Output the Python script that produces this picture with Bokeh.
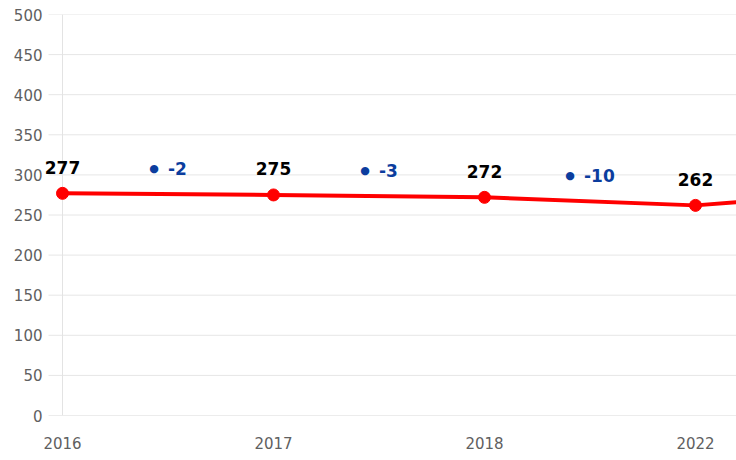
from bokeh.plotting import figure
from bokeh.models import Range1d, FixedTicker, ColumnDataSource, LabelSet, Label
from bokeh.core.properties import value
from bokeh.embed import file_html
from bokeh.resources import INLINE

# ---- data ----
years = ["2016", "2017", "2018", "2022", "2023"]
totals = [277, 275, 272, 262, 283]
changes = ["-2", "-3", "-10"]
y_ticks = [0, 50, 100, 150, 200, 250, 300, 350, 400, 450, 500]

FONT = "DejaVu Sans"
BLUE = "#0b3d9e"
GRID = "#e6e6e6"

xs = list(range(len(years)))
n_visible = 4
step_px = 211.0
x_start = -20 / step_px          # frame edge, a little left of the first category
x_end = 3 + 41 / step_px
grid_start = -14 / step_px       # grid lines begin 14px left of the first category

p = figure(width=736, height=452, output_backend="svg", toolbar_location=None,
           x_range=Range1d(x_start, x_end), y_range=Range1d(0, 500),
           min_border_left=42, min_border_right=0, min_border_top=14, min_border_bottom=37)
p.outline_line_color = None
p.background_fill_color = "white"
p.border_fill_color = "white"

# axes
p.xaxis.ticker = FixedTicker(ticks=xs)
p.xaxis.major_label_overrides = {i: y for i, y in zip(xs, years)}
p.xaxis.major_tick_out = 0
p.xaxis.major_tick_in = 0
p.xaxis.minor_tick_line_color = None
p.xaxis.axis_line_color = None
p.xaxis.major_label_standoff = 21
p.xaxis.major_label_text_font = FONT
p.xaxis.major_label_text_font_size = "15px"
p.xaxis.major_label_text_color = "#606060"

p.yaxis.ticker = FixedTicker(ticks=y_ticks)
p.yaxis.major_tick_out = 0
p.yaxis.major_tick_in = 0
p.yaxis.minor_tick_line_color = None
p.yaxis.axis_line_color = None
p.yaxis.major_label_standoff = 0
p.yaxis.major_label_text_font = FONT
p.yaxis.major_label_text_font_size = "15px"
p.yaxis.major_label_text_color = "#606060"

p.xgrid.grid_line_color = None
p.ygrid.grid_line_color = None

# horizontal grid lines (with the short stubs left of the axis) and the vertical axis line
grid_colors = ["#d9d9d9"] + [GRID] * (len(y_ticks) - 1)
p.segment(x0=[grid_start] * len(y_ticks), y0=y_ticks, x1=[x_end] * len(y_ticks), y1=y_ticks,
          line_color=grid_colors, line_width=1, level="underlay")
p.segment(x0=[xs[0]], y0=[y_ticks[0]], x1=[xs[0]], y1=[y_ticks[-1]],
          line_color="#e3e3e3", line_width=1, level="underlay")

# line and points
p.line(xs, totals, line_color="#ff0000", line_width=4)
p.scatter(xs, totals, size=12, fill_color="#ff0000", line_color="#ff0000")

# value labels
for i in range(n_visible):
    p.add_layout(Label(x=xs[i], y=totals[i], text=str(totals[i]), y_offset=26,
                       text_align="center", text_baseline="middle",
                       text_font=FONT, text_font_style="bold",
                       text_font_size="17px", text_color="#000000"))

# change labels between points
mid_x = [i + 0.5 for i in range(len(changes))]
mid_y = [(totals[i] + totals[i + 1]) / 2 for i in range(len(changes))]
shift = [-6 * (len(c) - 2) for c in changes]
csrc = ColumnDataSource(dict(x=mid_x, y=mid_y, t=changes,
                             tx=[s + 0 for s in shift],
                             dx=[s - 14 for s in shift],
                             dot=["\u25CF"] * len(changes)))
p.add_layout(LabelSet(x="x", y="y", text="t", source=csrc, x_offset="tx", y_offset=26,
                      text_align="left", text_baseline="middle",
                      text_font=value(FONT), text_font_style="bold",
                      text_font_size="17px", text_color=BLUE))
p.add_layout(LabelSet(x="x", y="y", text="dot", source=csrc, x_offset="dx", y_offset=26,
                      text_align="center", text_baseline="middle",
                      text_font=value("DejaVu Sans"), text_font_size="11px",
                      text_color=BLUE))

open("out.html", "w").write(file_html(p, INLINE))
